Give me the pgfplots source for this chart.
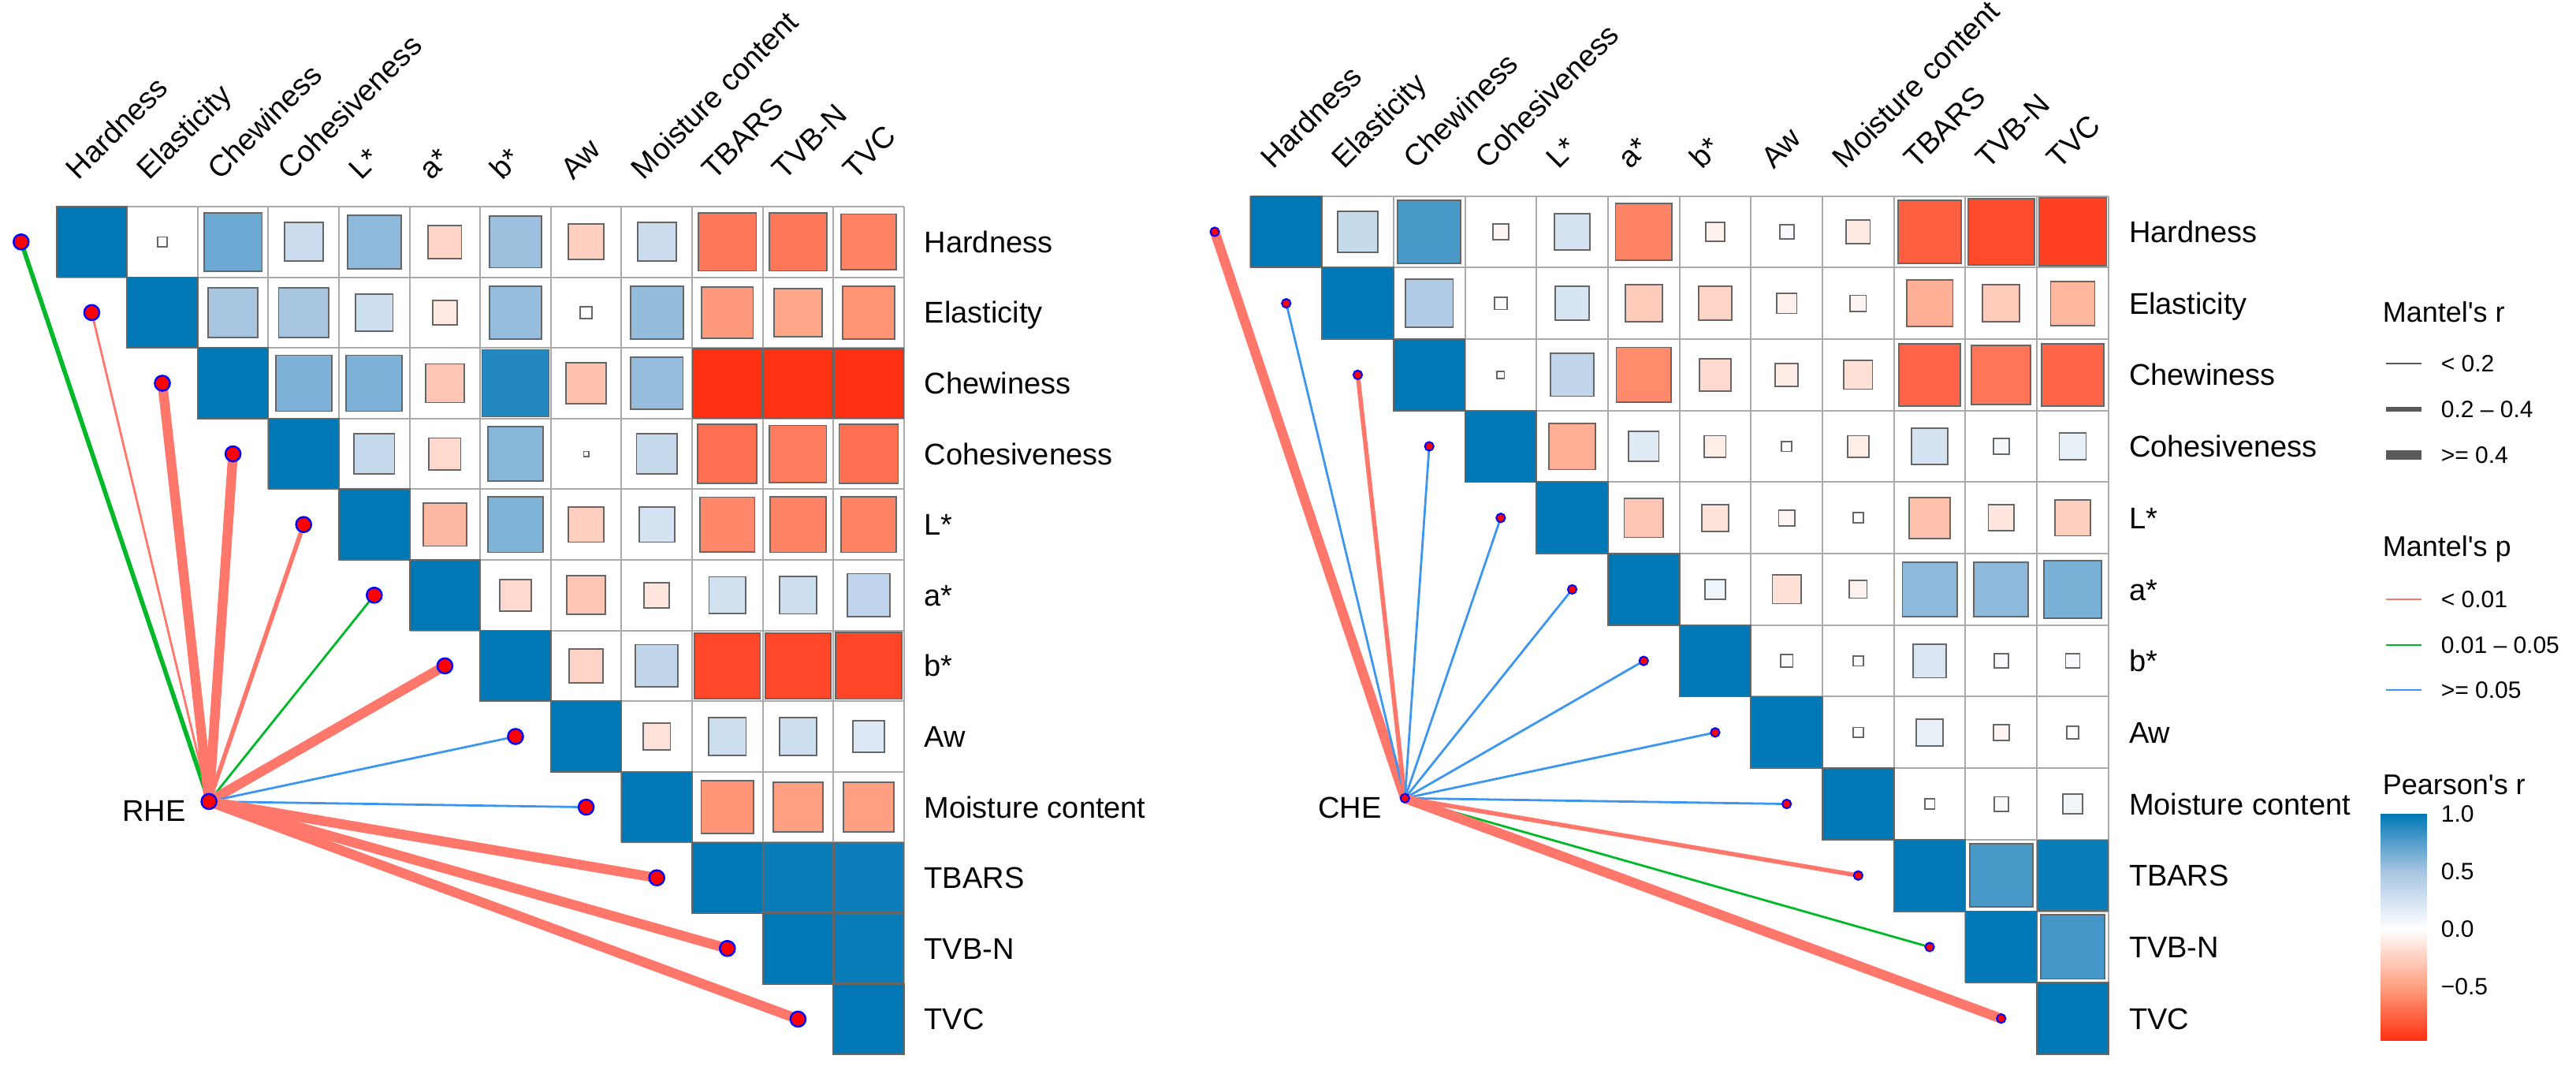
\documentclass[border=0pt]{standalone}
\usepackage{fontspec}
\setmainfont{Liberation Sans}
\usepackage{pgfplots}
\usepackage{pgfplotstable}
\pgfplotsset{compat=1.18}

\definecolor{mred}{RGB}{255,118,106}
\definecolor{mgreen}{RGB}{0,184,40}
\definecolor{mblue}{RGB}{60,150,240}
\definecolor{gridc}{RGB}{170,170,170}
\definecolor{keygray}{RGB}{90,90,90}

\newcommand\lab{\fontsize{9.5}{11}\selectfont}
\newcommand\leg{\fontsize{7.5}{9}\selectfont}
\newcommand\legt{\fontsize{9}{11}\selectfont}

% Pearson's r, upper triangle: row i, column j, value r
\pgfplotstableread{
i j r
1 1 1
1 2 0.02
1 3 0.68
1 4 0.30
1 5 0.58
1 6 -0.22
1 7 0.53
1 8 -0.25
1 9 0.30
1 10 -0.67
1 11 -0.67
1 12 -0.62
2 2 1
2 3 0.50
2 4 0.50
2 5 0.28
2 6 -0.12
2 7 0.55
2 8 0.03
2 9 0.56
2 10 -0.53
2 11 -0.47
2 12 -0.55
3 3 1
3 4 0.63
3 5 0.63
3 6 -0.30
3 7 0.90
3 8 -0.33
3 9 0.55
3 10 -0.97
3 11 -0.96
3 12 -0.97
4 4 1
4 5 0.33
4 6 -0.20
4 7 0.60
4 8 0.005
4 9 0.33
4 10 -0.70
4 11 -0.65
4 12 -0.70
5 5 1
5 6 -0.37
5 7 0.62
5 8 -0.25
5 9 0.25
5 10 -0.60
5 11 -0.62
5 12 -0.62
6 6 1
6 7 -0.20
6 8 -0.30
6 9 -0.13
6 10 0.27
6 11 0.28
6 12 0.37
7 7 1
7 8 -0.23
7 9 0.36
7 10 -0.87
7 11 -0.87
7 12 -0.88
8 8 1
8 9 -0.15
8 10 0.28
8 11 0.28
8 12 0.20
9 9 1
9 10 -0.55
9 11 -0.50
9 12 -0.50
10 10 1
10 11 0.97
10 12 0.96
11 11 1
11 12 0.97
12 12 1
}\rhedata

\pgfplotstableread{
i j r
1 1 1
1 2 0.32
1 3 0.78
1 4 -0.05
1 5 0.25
1 6 -0.62
1 7 -0.07
1 8 0.04
1 9 -0.11
1 10 -0.77
1 11 -0.86
1 12 -0.90
2 2 1
2 3 0.45
2 4 0.03
2 5 0.23
2 6 -0.27
2 7 -0.22
2 8 -0.08
2 9 -0.05
2 10 -0.42
2 11 -0.27
2 12 -0.38
3 3 1
3 4 0.01
3 5 0.36
3 6 -0.59
3 7 -0.20
3 8 -0.10
3 9 -0.16
3 10 -0.75
3 11 -0.68
3 12 -0.75
4 4 1
4 5 -0.42
4 6 0.18
4 7 -0.09
4 8 0.02
4 9 -0.09
4 10 0.25
4 11 0.05
4 12 0.14
5 5 1
5 6 -0.30
5 7 -0.14
5 8 -0.05
5 9 0.02
5 10 -0.33
5 11 -0.13
5 12 -0.25
6 6 1
6 7 0.08
6 8 -0.16
6 9 -0.06
6 10 0.58
6 11 0.58
6 12 0.64
7 7 1
7 8 0.03
7 9 0.02
7 10 0.22
7 11 0.04
7 12 0.04
8 8 1
8 9 0.02
8 10 0.14
8 11 -0.05
8 12 0.03
9 9 1
9 10 0.02
9 11 0.04
9 12 0.08
10 10 1
10 11 0.78
10 12 0.97
11 11 1
11 12 0.80
12 12 1
}\chedata

\pgfplotsset{
  pearson/.style={
    colormap={pr}{rgb255(0cm)=(255,40,10) rgb255(1cm)=(255,160,130)
      rgb255(2cm)=(255,255,255) rgb255(3cm)=(168,197,226) rgb255(4cm)=(0,120,182)},
    point meta min=-1, point meta max=1},
  panel/.style={hide axis, clip=false, enlargelimits=false,
    xmin=0.5, xmax=12.5, ymin=-12.5, ymax=-0.5, anchor=north west, pearson},
}
\tikzset{
  clab/.style={anchor=base west, rotate=45, inner sep=0pt, font=\lab},
  rlab/.style={anchor=base west, inner sep=0pt, font=\lab},
  mthin/.style={line width=0.7pt},
  mmid/.style={line width=1.4pt},
  mthick/.style={line width=3.1pt},
}

\newcommand\gridplot{%
  \addplot[gridc, line width=0.5pt, unbounded coords=jump, forget plot] coordinates {
    (0.5,-0.5) (0.5,-1.5) (nan,nan) (1.5,-0.5) (1.5,-2.5) (nan,nan)
    (2.5,-0.5) (2.5,-3.5) (nan,nan) (3.5,-0.5) (3.5,-4.5) (nan,nan)
    (4.5,-0.5) (4.5,-5.5) (nan,nan) (5.5,-0.5) (5.5,-6.5) (nan,nan)
    (6.5,-0.5) (6.5,-7.5) (nan,nan) (7.5,-0.5) (7.5,-8.5) (nan,nan)
    (8.5,-0.5) (8.5,-9.5) (nan,nan) (9.5,-0.5) (9.5,-10.5) (nan,nan)
    (10.5,-0.5) (10.5,-11.5) (nan,nan) (11.5,-0.5) (11.5,-12.5) (nan,nan)
    (12.5,-0.5) (12.5,-12.5) (nan,nan) (0.5,-0.5) (12.5,-0.5) (nan,nan)
    (0.5,-1.5) (12.5,-1.5) (nan,nan) (1.5,-2.5) (12.5,-2.5) (nan,nan)
    (2.5,-3.5) (12.5,-3.5) (nan,nan) (3.5,-4.5) (12.5,-4.5) (nan,nan)
    (4.5,-5.5) (12.5,-5.5) (nan,nan) (5.5,-6.5) (12.5,-6.5) (nan,nan)
    (6.5,-7.5) (12.5,-7.5) (nan,nan) (7.5,-8.5) (12.5,-8.5) (nan,nan)
    (8.5,-9.5) (12.5,-9.5) (nan,nan) (9.5,-10.5) (12.5,-10.5) (nan,nan)
    (10.5,-11.5) (12.5,-11.5) (nan,nan) (11.5,-12.5) (12.5,-12.5)
  };
}

\newcommand\squares[2]{%
  \addplot[scatter, only marks, mark=square*, point meta=\thisrow{r},
    scatter/use mapped color={draw=black!60, fill=mapped color},
    visualization depends on={sqrt(abs(\thisrow{r}))*#2 \as \sqsz},
    scatter/@pre marker code/.append style={/tikz/mark size=\sqsz},
    mark options={line width=0.45pt}]
    table[x=j, y expr=-\thisrow{i}] {#1};
}

\newcommand\panellabels{%
  \node[clab] at (axis cs:0.81,-0.14) {Hardness};
  \node[clab] at (axis cs:1.81,-0.14) {Elasticity};
  \node[clab] at (axis cs:2.81,-0.14) {Chewiness};
  \node[clab] at (axis cs:3.81,-0.14) {Cohesiveness};
  \node[clab] at (axis cs:4.81,-0.14) {L*};
  \node[clab] at (axis cs:5.81,-0.14) {a*};
  \node[clab] at (axis cs:6.81,-0.14) {b*};
  \node[clab] at (axis cs:7.81,-0.14) {Aw};
  \node[clab] at (axis cs:8.81,-0.14) {Moisture content};
  \node[clab] at (axis cs:9.81,-0.14) {TBARS};
  \node[clab] at (axis cs:10.81,-0.14) {TVB-N};
  \node[clab] at (axis cs:11.81,-0.14) {TVC};
  \node[rlab] at (axis cs:12.78,-1.15) {Hardness};
  \node[rlab] at (axis cs:12.78,-2.15) {Elasticity};
  \node[rlab] at (axis cs:12.78,-3.15) {Chewiness};
  \node[rlab] at (axis cs:12.78,-4.15) {Cohesiveness};
  \node[rlab] at (axis cs:12.78,-5.15) {L*};
  \node[rlab] at (axis cs:12.78,-6.15) {a*};
  \node[rlab] at (axis cs:12.78,-7.15) {b*};
  \node[rlab] at (axis cs:12.78,-8.15) {Aw};
  \node[rlab] at (axis cs:12.78,-9.15) {Moisture content};
  \node[rlab] at (axis cs:12.78,-10.15) {TBARS};
  \node[rlab] at (axis cs:12.78,-11.15) {TVB-N};
  \node[rlab] at (axis cs:12.78,-12.15) {TVC};
}

\begin{document}
\begin{tikzpicture}
\useasboundingbox (0,0) rectangle (817pt,340.25pt);

% ---- RHE panel ----
\begin{axis}[panel, at={(17.9pt,274.75pt)}, x=22.4pt, y=22.4pt]
  \gridplot
  \squares{\rhedata}{11.2}
  \addplot[mgreen, mmid] coordinates {(2.66,-8.92) (0,-1)};
  \addplot[mred, mthin] coordinates {(2.66,-8.92) (1,-2)};
  \addplot[mred, mthick] coordinates {(2.66,-8.92) (2,-3)};
  \addplot[mred, mthick] coordinates {(2.66,-8.92) (3,-4)};
  \addplot[mred, mmid] coordinates {(2.66,-8.92) (4,-5)};
  \addplot[mgreen, mthin] coordinates {(2.66,-8.92) (5,-6)};
  \addplot[mred, mthick] coordinates {(2.66,-8.92) (6,-7)};
  \addplot[mblue, mthin] coordinates {(2.66,-8.92) (7,-8)};
  \addplot[mblue, mthin] coordinates {(2.66,-8.92) (8,-9)};
  \addplot[mred, mthick] coordinates {(2.66,-8.92) (9,-10)};
  \addplot[mred, mthick] coordinates {(2.66,-8.92) (10,-11)};
  \addplot[mred, mthick] coordinates {(2.66,-8.92) (11,-12)};
  \addplot[only marks, mark=*, mark size=2.4pt,
    mark options={fill=red, draw=blue, line width=0.6pt}] coordinates {
    (0,-1) (1,-2) (2,-3) (3,-4) (4,-5) (5,-6) (6,-7) (7,-8)
    (8,-9) (9,-10) (10,-11) (11,-12) (2.66,-8.92)};
  \node[anchor=east, inner sep=0pt, font=\lab] at (axis cs:2.34,-9.05) {RHE};
  \panellabels
\end{axis}

% ---- CHE panel ----
\begin{axis}[panel, at={(396.6pt,278.1pt)}, x=22.675pt, y=22.675pt]
  \gridplot
  \squares{\chedata}{11.34}
  \addplot[mred, mthick] coordinates {(2.66,-8.92) (0,-1)};
  \addplot[mblue, mthin] coordinates {(2.66,-8.92) (1,-2)};
  \addplot[mred, mmid] coordinates {(2.66,-8.92) (2,-3)};
  \addplot[mblue, mthin] coordinates {(2.66,-8.92) (3,-4)};
  \addplot[mblue, mthin] coordinates {(2.66,-8.92) (4,-5)};
  \addplot[mblue, mthin] coordinates {(2.66,-8.92) (5,-6)};
  \addplot[mblue, mthin] coordinates {(2.66,-8.92) (6,-7)};
  \addplot[mblue, mthin] coordinates {(2.66,-8.92) (7,-8)};
  \addplot[mblue, mthin] coordinates {(2.66,-8.92) (8,-9)};
  \addplot[mred, mmid] coordinates {(2.66,-8.92) (9,-10)};
  \addplot[mgreen, mthin] coordinates {(2.66,-8.92) (10,-11)};
  \addplot[mred, mthick] coordinates {(2.66,-8.92) (11,-12)};
  \addplot[only marks, mark=*, mark size=1.4pt,
    mark options={fill=red, draw=blue, line width=0.5pt}] coordinates {
    (0,-1) (1,-2) (2,-3) (3,-4) (4,-5) (5,-6) (6,-7) (7,-8)
    (8,-9) (9,-10) (10,-11) (11,-12) (2.66,-8.92)};
  \node[anchor=east, inner sep=0pt, font=\lab] at (axis cs:2.34,-9.05) {CHE};
  \panellabels
\end{axis}

% ---- legends ----
\node[anchor=west, inner sep=0pt, font=\legt] at (755.5pt,241.25pt) {Mantel\textquotesingle s r};
\draw[keygray, mthin] (756.75pt,225pt) -- (768pt,225pt);
\draw[keygray, mmid] (756.75pt,210.5pt) -- (768pt,210.5pt);
\draw[keygray, mthick] (756.75pt,196pt) -- (768pt,196pt);
\node[anchor=west, inner sep=0pt, font=\leg] at (774pt,225pt) {< 0.2};
\node[anchor=west, inner sep=0pt, font=\leg] at (774pt,210.5pt) {0.2 – 0.4};
\node[anchor=west, inner sep=0pt, font=\leg] at (774pt,196pt) {>= 0.4};

\node[anchor=west, inner sep=0pt, font=\legt] at (755.5pt,166.25pt) {Mantel\textquotesingle s p};
\draw[mred, mthin] (756.75pt,150.25pt) -- (768pt,150.25pt);
\draw[mgreen, mthin] (756.75pt,135.75pt) -- (768pt,135.75pt);
\draw[mblue, mthin] (756.75pt,121.5pt) -- (768pt,121.5pt);
\node[anchor=west, inner sep=0pt, font=\leg] at (774pt,150.25pt) {< 0.01};
\node[anchor=west, inner sep=0pt, font=\leg] at (774pt,135.75pt) {0.01 – 0.05};
\node[anchor=west, inner sep=0pt, font=\leg] at (774pt,121.5pt) {>= 0.05};

\node[anchor=west, inner sep=0pt, font=\legt] at (755.5pt,91.5pt) {Pearson\textquotesingle s r};

\begin{axis}[at={(755pt,10.25pt)}, anchor=south west, scale only axis,
    width=14.5pt, height=72pt, xmin=0, xmax=1, ymin=-0.97, ymax=1,
    enlargelimits=false, pearson, axis line style={draw=none},
    xtick=\empty, ytick={-0.5,0,0.5,1}, yticklabels={−0.5,0.0,0.5,1.0},
    ytick pos=both, yticklabel pos=right, tick align=inside,
    major tick length=2.5pt, tick style={white, line width=0.7pt},
    yticklabel style={font=\leg, anchor=west, inner sep=0pt, xshift=4.5pt}]
  \addplot[surf, shader=interp, point meta=\thisrow{c}, mesh/cols=2] table {
    x y c
    0 -0.97 -0.97
    1 -0.97 -0.97
    0 -0.5 -0.5
    1 -0.5 -0.5
    0 0 0
    1 0 0
    0 0.5 0.5
    1 0.5 0.5
    0 1 1
    1 1 1
  };
\end{axis}
\end{tikzpicture}
\end{document}
